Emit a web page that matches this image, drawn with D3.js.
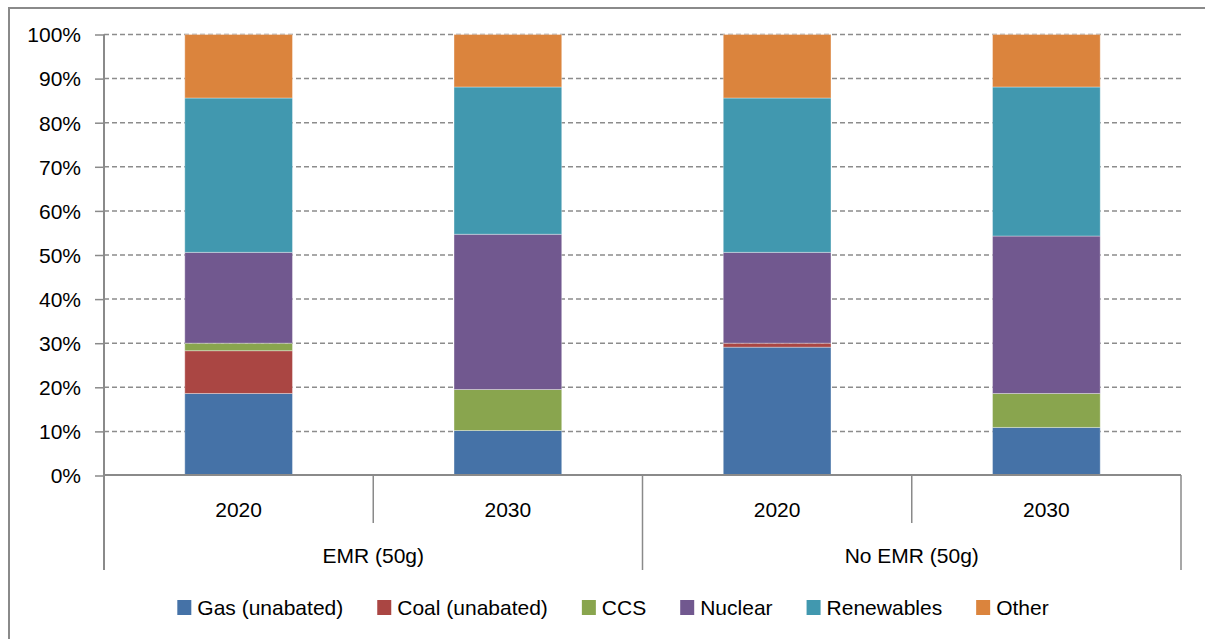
<!DOCTYPE html>
<html>
<head>
<meta charset="utf-8">
<script src="https://cdn.jsdelivr.net/npm/d3@7"></script>
<style>
    body { margin: 0; background: #fff; }
    svg text { font-family: "Liberation Sans", Arial, sans-serif; fill: #000; }
</style>
</head>
<body>
<div class="chart"></div>
<script>
// data (share of generation, %)
const scenarios = ["EMR (50g)", "No EMR (50g)"];
const years = ["2020", "2030"];
const fuels = ["Gas (unabated)", "Coal (unabated)", "CCS", "Nuclear", "Renewables", "Other"];
const gas = [18.6, 10.2, 29.1, 10.9];
const coal = [9.7, 0, 0.9, 0];
const ccs = [1.7, 9.3, 0, 7.7];
const nuclear = [20.6, 35.2, 20.6, 35.7];
const renewables = [35.0, 33.4, 35.0, 33.8];
const other = [14.4, 11.9, 14.4, 11.9];
const yTicks = [0, 10, 20, 30, 40, 50, 60, 70, 80, 90, 100];

const colors = ["#4572a7", "#aa4643", "#89a54e", "#71588f", "#4198af", "#db843d"];

const width = 1205;
const height = 639;
const margin = {top: 34.5, right: 24, bottom: 164, left: 104};
const fontSize = "21px";

// one row per bar
let rows = [];
scenarios.forEach(function(s, si){
    years.forEach(function(y, yi){
        const i = si * years.length + yi;
        rows.push({
            key: s + "|" + y,
            scenario: s,
            year: y,
            "Gas (unabated)": gas[i],
            "Coal (unabated)": coal[i],
            "CCS": ccs[i],
            "Nuclear": nuclear[i],
            "Renewables": renewables[i],
            "Other": other[i]
        });
    });
});

let svg = d3.select(".chart")
            .append("svg")
            .attr("width", width)
            .attr("height", height);

// outer frame of the chart
svg.append("rect")
    .attr("x", 9)
    .attr("y", 8)
    .attr("width", width + 20)
    .attr("height", height + 20)
    .attr("fill", "none")
    .attr("stroke", "#8a8a8a")
    .attr("stroke-width", 2);

const x0 = margin.left;
const x1 = width - margin.right;
const y0 = height - margin.bottom;

let xScale = d3.scaleBand()
        .domain(rows.map(function(d){ return d.key; }))
        .range([x0, x1])
        .paddingInner(0.6)
        .paddingOuter(0.3);

let yScale = d3.scaleLinear()
        .domain([0, 100])
        .range([y0 + 0.5, margin.top]);

// dashed gridlines
svg.append("g")
    .selectAll("line")
    .data(yTicks.filter(function(d){ return d > 0; }))
    .enter()
    .append("line")
    .attr("x1", x0)
    .attr("x2", x1)
    .attr("y1", function(d){ return yScale(d); })
    .attr("y2", function(d){ return yScale(d); })
    .attr("stroke", "#8c8c8c")
    .attr("stroke-width", 1.5)
    .attr("stroke-dasharray", "5,3");

// Add Y axis
let yAxis = svg.append("g")
    .attr("transform", "translate(" + x0 + ",0)")
    .call(d3.axisLeft(yScale)
        .tickValues(yTicks)
        .tickSize(9)
        .tickPadding(14)
        .tickFormat(function(d){ return d + "%"; }));
yAxis.select(".domain").remove();
yAxis.selectAll(".tick line").attr("stroke", "#8a8a8a").attr("stroke-width", 1.5);
yAxis.selectAll(".tick text").style("font-size", fontSize).attr("dy", "0.35em");

// stacked bars
const stack = d3.stack().keys(fuels);
const layers = stack(rows);

svg.append("g")
    .selectAll("g")
    .data(layers)
    .enter()
    .append("g")
    .attr("fill", function(d, i){ return colors[i]; })
    .selectAll("rect")
    .data(function(d){ return d; })
    .enter()
    .append("rect")
    .attr("x", function(d){ return xScale(d.data.key); })
    .attr("width", xScale.bandwidth())
    .attr("y", function(d){ return yScale(d[1]); })
    .attr("height", function(d){ return yScale(d[0]) - yScale(d[1]); })
    .attr("stroke", "rgba(255,255,255,0.35)")
    .attr("stroke-width", 1);

// axis lines
svg.append("line")
    .attr("x1", x0).attr("x2", x0)
    .attr("y1", margin.top).attr("y2", y0 + 95)
    .attr("stroke", "#8a8a8a").attr("stroke-width", 2);
svg.append("line")
    .attr("x1", x0).attr("x2", x1)
    .attr("y1", y0).attr("y2", y0)
    .attr("stroke", "#8a8a8a").attr("stroke-width", 2);

// category separators: years
const step = xScale.step();
svg.append("g")
    .selectAll("line")
    .data(rows.filter(function(d, i){ return i % years.length === 0; }))
    .enter()
    .append("line")
    .attr("x1", function(d){ return xScale(d.key) + xScale.bandwidth() + (step - xScale.bandwidth()) / 2; })
    .attr("x2", function(d){ return xScale(d.key) + xScale.bandwidth() + (step - xScale.bandwidth()) / 2; })
    .attr("y1", y0)
    .attr("y2", y0 + 48)
    .attr("stroke", "#8a8a8a")
    .attr("stroke-width", 1.5);

// scenario separators
const groupWidth = (x1 - x0) / scenarios.length;
svg.append("g")
    .selectAll("line")
    .data(d3.range(scenarios.length + 1))
    .enter()
    .append("line")
    .attr("x1", function(d){ return x0 + d * groupWidth; })
    .attr("x2", function(d){ return x0 + d * groupWidth; })
    .attr("y1", y0)
    .attr("y2", y0 + 95)
    .attr("stroke", "#8a8a8a")
    .attr("stroke-width", 1.5);

// year labels
svg.append("g")
    .selectAll("text")
    .data(rows)
    .enter()
    .append("text")
    .attr("x", function(d){ return xScale(d.key) + xScale.bandwidth() / 2; })
    .attr("y", y0 + 42)
    .attr("text-anchor", "middle")
    .style("font-size", fontSize)
    .text(function(d){ return d.year; });

// scenario labels
svg.append("g")
    .selectAll("text")
    .data(scenarios)
    .enter()
    .append("text")
    .attr("x", function(d, i){ return x0 + (i + 0.5) * groupWidth; })
    .attr("y", y0 + 88)
    .attr("text-anchor", "middle")
    .style("font-size", fontSize)
    .text(function(d){ return d; });

// legend
let legend = svg.append("g");
let items = legend.selectAll("g")
    .data(fuels)
    .enter()
    .append("g");
items.append("rect")
    .attr("width", 14)
    .attr("height", 15)
    .attr("y", -15)
    .attr("fill", function(d, i){ return colors[i]; });
items.append("text")
    .attr("x", 20)
    .style("font-size", fontSize)
    .text(function(d){ return d; });

let offset = 0;
const gap = 34;
let positions = [];
items.each(function(d){
    positions.push(offset);
    offset += 20 + this.querySelector("text").getComputedTextLength() + gap;
});
const total = offset - gap;
const startX = 613 - total / 2;
items.attr("transform", function(d, i){
    return "translate(" + (startX + positions[i]) + ",615)";
});
</script>
</body>
</html>
